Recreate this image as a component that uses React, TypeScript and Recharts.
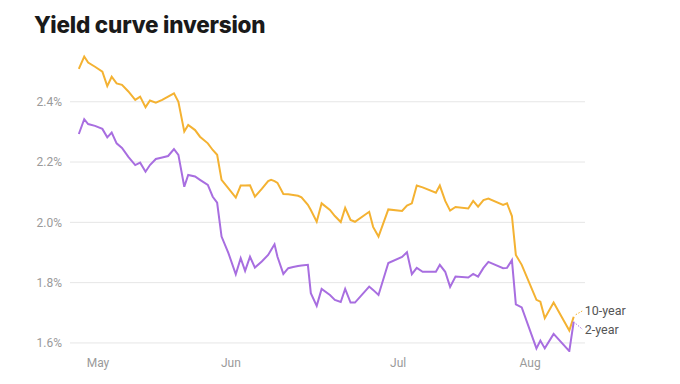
import { LineChart, Line, XAxis, YAxis, CartesianGrid, LabelList } from 'recharts';

// =============================================================================
// Data
// =============================================================================

// Position of each observation along the time axis (days from the start)
const days = [
  1.8, 2.9, 3.7, 5.1, 6.6, 7.6, 8.5, 9.5, 10.6, 11.9,
  13.3, 14.3, 15.4, 16.3, 17.5, 18.8, 20.0, 21.2, 22.1, 23.3,
  24.1, 25.5, 26.5, 28.1, 29.1, 30.0, 30.9, 32.3, 33.8, 34.8,
  35.7, 36.7, 37.7, 39.1, 40.4, 41.0, 41.7, 42.3, 43.5, 44.5,
  45.5, 46.5, 47.2, 48.5, 49.1, 50.3, 51.3, 53.0, 54.0, 55.2,
  56.1, 57.2, 58.1, 61.0, 61.8, 62.9, 64.9, 67.7, 68.7, 69.7,
  70.7, 71.9, 74.6, 75.4, 76.5, 77.5, 78.6, 81.2, 82.2, 83.2,
  84.3, 85.3, 88.3, 89.1, 90.1, 90.9, 92.1, 95.1, 95.9, 96.8,
  98.6, 101.8, 102.7,
];

const tenYear = [
  2.509, 2.55, 2.53, 2.516, 2.5, 2.452, 2.483, 2.461, 2.456, 2.434,
  2.406, 2.417, 2.382, 2.404, 2.397, 2.406, 2.417, 2.428, 2.4, 2.301,
  2.323, 2.306, 2.284, 2.262, 2.24, 2.224, 2.141, 2.113, 2.082, 2.122,
  2.122, 2.123, 2.085, 2.111, 2.137, 2.141, 2.137, 2.131, 2.094, 2.093,
  2.091, 2.088, 2.083, 2.058, 2.041, 2.002, 2.063, 2.041, 2.021, 2.001,
  2.048, 2.008, 2.002, 2.035, 1.985, 1.953, 2.043, 2.038, 2.056, 2.063,
  2.122, 2.116, 2.098, 2.122, 2.071, 2.039, 2.051, 2.046, 2.071, 2.052,
  2.074, 2.079, 2.058, 2.063, 2.021, 1.892, 1.859, 1.743, 1.737, 1.682,
  1.734, 1.641, 1.687,
];

const twoYear = [
  2.293, 2.342, 2.326, 2.32, 2.31, 2.282, 2.298, 2.262, 2.247, 2.217,
  2.19, 2.198, 2.168, 2.19, 2.21, 2.215, 2.22, 2.243, 2.224, 2.118,
  2.157, 2.152, 2.141, 2.124, 2.085, 2.065, 1.953, 1.898, 1.828, 1.881,
  1.839, 1.886, 1.85, 1.87, 1.892, 1.908, 1.927, 1.886, 1.829, 1.848,
  1.852, 1.855, 1.857, 1.859, 1.765, 1.723, 1.779, 1.759, 1.743, 1.736,
  1.779, 1.734, 1.734, 1.787, 1.776, 1.759, 1.865, 1.885, 1.901, 1.828,
  1.849, 1.836, 1.836, 1.859, 1.836, 1.786, 1.82, 1.817, 1.829, 1.82,
  1.849, 1.869, 1.848, 1.849, 1.875, 1.728, 1.718, 1.582, 1.608, 1.582,
  1.63, 1.573, 1.671,
];

const monthTicks = [5.7, 32.8, 66.9, 93.8];
const monthLabels = ['May', 'Jun', 'Jul', 'Aug'];
const yTicks = [1.6, 1.8, 2.0, 2.2, 2.4];

const chartData = days.map((day, i) => ({
  day,
  tenYear: tenYear[i],
  twoYear: twoYear[i],
}));

// =============================================================================
// Styles
// =============================================================================

const COLORS = {
  tenYear: '#f4b232',
  twoYear: '#a86ee0',
  grid: '#e6e6e6',
  tick: '#9a9a9a',
  label: '#555555',
  title: '#1a1a1a',
};

const FONT = 'Roboto, "Noto Sans", sans-serif';

// Series name drawn at the last point, with a short dotted leader
function EndLabel({
  x,
  y,
  index,
  text,
  color,
  dy,
}: {
  x?: number;
  y?: number;
  index?: number;
  text: string;
  color: string;
  dy: number;
}) {
  if (index !== days.length - 1 || x == null || y == null) return null;
  const lx = x + 11;
  const ly = y + dy;
  return (
    <g>
      <line
        x1={x + 2}
        y1={y + (dy > 0 ? 2 : -2)}
        x2={lx - 2}
        y2={ly}
        stroke={color}
        strokeWidth={1}
        strokeDasharray="1.5 1.5"
      />
      <text
        x={lx}
        y={ly}
        dy="0.35em"
        fontSize={12.5}
        fontFamily={FONT}
        fill={COLORS.label}
      >
        {text}
      </text>
    </g>
  );
}

export default function App() {
  return (
    <div
      style={{
        position: 'absolute',
        left: 0,
        top: 0,
        width: 680,
        height: 384,
        background: '#ffffff',
        overflow: 'hidden',
      }}
    >
      <div
        style={{
          position: 'absolute',
          left: 34,
          top: 12,
          fontFamily: 'Inter, Roboto, sans-serif',
          fontWeight: 800,
          fontSize: 22.5,
          lineHeight: '26px',
          color: COLORS.title,
          letterSpacing: -0.2,
        }}
      >
        Yield curve inversion
      </div>
      <LineChart
        width={680}
        height={384}
        data={chartData}
        margin={{ top: 53.5, right: 95, bottom: 0, left: 0 }}
      >
        <CartesianGrid
          vertical={false}
          horizontalValues={yTicks}
          stroke={COLORS.grid}
          strokeWidth={1}
        />
        <XAxis
          dataKey="day"
          type="number"
          domain={[0, 105]}
          ticks={monthTicks}
          tickFormatter={(v: number) => monthLabels[monthTicks.indexOf(v)]}
          axisLine={false}
          tickLine={false}
          height={32}
          tickMargin={0}
          tick={{ fontSize: 12, fill: COLORS.tick, fontFamily: FONT }}
        />
        <YAxis
          type="number"
          domain={[1.57, 2.56]}
          ticks={yTicks}
          allowDataOverflow
          tickFormatter={(v: number) => `${v.toFixed(1)}%`}
          axisLine={false}
          tickLine={false}
          width={70}
          tick={{ fontSize: 12, fill: COLORS.tick, fontFamily: FONT }}
        />
        <Line
          type="linear"
          dataKey="tenYear"
          stroke={COLORS.tenYear}
          strokeWidth={2}
          dot={false}
          isAnimationActive={false}
        >
          <LabelList
            dataKey="tenYear"
            content={(p: any) => (
              <EndLabel {...p} text="10-year" color={COLORS.tenYear} dy={-6} />
            )}
          />
        </Line>
        <Line
          type="linear"
          dataKey="twoYear"
          stroke={COLORS.twoYear}
          strokeWidth={2}
          dot={false}
          isAnimationActive={false}
        >
          <LabelList
            dataKey="twoYear"
            content={(p: any) => (
              <EndLabel {...p} text="2-year" color={COLORS.twoYear} dy={8} />
            )}
          />
        </Line>
      </LineChart>
    </div>
  );
}
